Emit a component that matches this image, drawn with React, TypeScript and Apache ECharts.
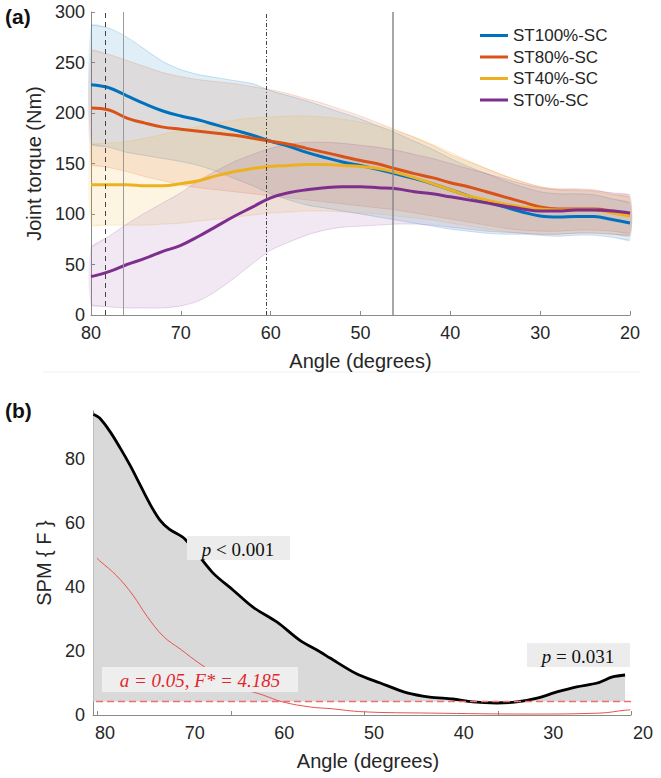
import React, { useEffect, useRef } from "react";
import * as echarts from "echarts";

// ---------- Panel (a): joint torque vs angle ----------
const angles = [80, 78, 76, 74, 72, 70, 68, 66, 64, 62, 60, 58, 56, 54, 52, 50, 48, 46, 44, 42, 40, 38, 36, 34, 32, 30, 28, 26, 24, 22, 20];

const st100Mean = [228, 225, 217, 209, 202, 197, 193, 188, 183, 178, 172, 167, 161, 156, 151.5, 148, 144, 139.5, 135, 130, 124, 118, 112, 107, 102, 98, 97, 97.5, 97.5, 94.5, 91];
const st80Mean = [205, 203, 195, 190, 186, 184, 182, 180, 178, 175, 172, 169, 165, 161, 157, 153, 149.5, 144.5, 140, 136, 131, 127, 122, 117, 112, 107, 105, 105, 105, 103, 100];
const st40Mean = [129, 129, 129, 128, 128, 130, 133, 138, 142, 145, 147, 148, 149, 149, 148, 147, 145, 141, 136, 130, 124, 118, 114, 110, 107, 105, 104, 104, 104, 101, 98];
const st0Mean = [38, 43, 50, 56, 63, 69, 78, 88, 98, 107, 116, 121, 124, 126, 127, 127, 126, 125, 122, 120, 117, 114, 111, 108, 105, 103, 103, 104, 104, 103, 101];

const st100Upper = [287, 284, 275, 263, 251, 243, 238, 235, 232, 229, 222, 217, 212, 206, 200, 194, 187, 180, 172, 164, 155, 147, 140, 133, 127, 122, 120, 120, 119, 115, 111];
const st100Lower = [169, 166, 161, 158, 155, 152, 148, 142, 135, 128, 120, 114, 109, 106, 103, 100, 97, 94, 91, 88, 85, 83, 81, 80, 80, 79, 78, 79, 79, 77, 74];
const st80Upper = [262, 258, 252, 246, 240, 236, 233, 231, 229, 226, 223, 219, 214, 209, 203, 197, 190, 183, 176, 168, 159, 152, 145, 138, 132, 127, 125, 125, 124, 120, 117];
const st80Lower = [149, 146, 142, 137, 133, 129, 126, 124, 122, 120, 118, 116, 114, 112, 110, 108, 106, 104, 101, 98, 95, 92, 89, 86, 84, 83, 83, 84, 84, 83, 81];
const st40Upper = [169, 170, 172, 175, 179, 183, 187, 190, 193, 195, 196, 197, 197, 196, 194, 191, 187, 182, 176, 169, 161, 153, 145, 138, 132, 127, 124, 123, 122, 119, 116];
const st40Lower = [89, 89, 89, 89, 90, 91, 93, 95, 97, 99, 101, 102, 103, 103, 102, 101, 100, 98, 96, 94, 91, 88, 85, 83, 81, 80, 80, 81, 81, 80, 78];
const st0Upper = [67, 78, 90, 101, 111, 121, 133, 143, 152, 159, 165, 169, 171, 171, 170, 168, 166, 163, 159, 155, 150, 145, 140, 135, 130, 126, 124, 124, 123, 121, 119];
const st0Lower = [10, 8, 7, 7, 7, 9, 14, 24, 37, 51, 64, 72, 79, 84, 87, 88, 89, 90, 90, 89, 87, 85, 83, 82, 81, 80, 80, 81, 81, 80, 79];

const seriesNames = ["ST100%-SC", "ST80%-SC", "ST40%-SC", "ST0%-SC"];
const markerAngles = [78.4, 76.4, 60.5, 46.4];

// ---------- Panel (b): SPM{F} ----------
const spmAngle = [81.3, 80.6, 79.4, 78.3, 77.2, 76.1, 75.0, 73.9, 72.8, 71.1, 68.0, 65.7, 63.5, 60.8, 58.3, 56.0, 54.9, 51.9, 49.3, 46.3, 43.8, 41.2, 39.0, 36.3, 34.1, 31.8, 29.6, 27.4, 25.1, 23.4, 22.0];
const spmF = [94, 92.8, 88.4, 83.4, 78, 72, 66, 61, 58, 55, 44.5, 39, 33.7, 29, 23.4, 19.7, 17.8, 12.8, 10, 6.9, 5.6, 5.0, 4.1, 3.75, 4.1, 5.3, 7.2, 8.8, 10, 11.9, 12.5];
const redAngle = [80.9, 80.6, 78.7, 76.9, 75.3, 73.5, 71.6, 69.4, 65.7, 62.4, 60.2, 57.1, 54.9, 51.2, 43.8, 32.6, 24.8, 22.0, 21.4];
const redF = [49, 48.2, 43.5, 37.5, 30.8, 24.6, 20.6, 16, 9.4, 6.25, 4.1, 2.5, 2.0, 1.0, 0.6, 0.3, 0.6, 1.5, 1.6];
const threshold = 4.185;
const spmYTicks = [0, 20, 40, 60, 80];
const bottomLabelValues = [80, 70, 60, 50, 40, 30, 20];
const bottomTickValues = [80.9, 65.95, 51.1, 36.2, 21.35];
const bottomMinDeg = 21.34;
const bottomMaxDeg = 81.34;

const COLORS = ["#0072BD", "#D95319", "#EDB120", "#7E2F8E"];
const BAND_FILLS = [
  "rgba(0,114,189,0.12)",
  "rgba(217,83,25,0.12)",
  "rgba(237,177,32,0.13)",
  "rgba(126,47,142,0.11)",
];
const BAND_EDGES = [
  "rgba(0,114,189,0.25)",
  "rgba(217,83,25,0.22)",
  "rgba(237,177,32,0.25)",
  "rgba(126,47,142,0.22)",
];

const SANS = "'Liberation Sans', Arial, Helvetica, sans-serif";
const SERIF = "'Liberation Serif', 'Times New Roman', serif";
const AXIS_GREY = "#8a8a8a";
const TEXT = "#262626";

function pairs(xs: number[], ys: number[]) {
  return xs.map((x, i) => [x, ys[i]]);
}

export default function App() {
  const ref = useRef<HTMLDivElement>(null);

  useEffect(() => {
    if (!ref.current) return;
    const chart = echarts.init(ref.current, null, { renderer: "svg" });

    const means = [st100Mean, st80Mean, st40Mean, st0Mean];
    const uppers = [st100Upper, st80Upper, st40Upper, st0Upper];
    const lowers = [st100Lower, st80Lower, st40Lower, st0Lower];

    const bandSeries: any[] = uppers.map((up, k) => {
      const lo = lowers[k];
      return {
        type: "custom",
        xAxisIndex: 0,
        yAxisIndex: 0,
        silent: true,
        z: 1,
        data: angles.map((a, i) => [a, lo[i], up[i]]),
        encode: { x: 0, y: [1, 2] },
        renderItem: (params: any, api: any) => {
          if (params.dataIndex !== 0) return null;
          const top = angles.map((a, i) => api.coord([a, up[i]]));
          const bot = angles.map((a, i) => api.coord([a, lo[i]]));
          const poly = top.concat(bot.slice().reverse());
          return {
            type: "group",
            children: [
              {
                type: "polygon",
                shape: { points: poly, smooth: 0.25 },
                style: { fill: BAND_FILLS[k], stroke: "none" },
              },
              {
                type: "polyline",
                shape: { points: top, smooth: 0.3 },
                style: { fill: "none", stroke: BAND_EDGES[k], lineWidth: 0.8 },
              },
              {
                type: "polyline",
                shape: { points: bot, smooth: 0.3 },
                style: { fill: "none", stroke: BAND_EDGES[k], lineWidth: 0.8 },
              },
            ],
          };
        },
      };
    });

    const meanSeries: any[] = means.map((m, k) => ({
      type: "line",
      name: seriesNames[k],
      xAxisIndex: 0,
      yAxisIndex: 0,
      data: pairs(angles, m),
      smooth: 0.4,
      showSymbol: false,
      color: COLORS[k],
      lineStyle: { color: COLORS[k], width: 3 },
      z: 3,
      markLine:
        k === 0
          ? {
              silent: true,
              symbol: ["none", "none"],
              label: { show: false },
              data: [
                { xAxis: markerAngles[0], lineStyle: { color: "#444", type: [5, 4], width: 1 } },
                { xAxis: markerAngles[1], lineStyle: { color: "#9a9a9a", type: "solid", width: 1 } },
                { xAxis: markerAngles[2], lineStyle: { color: "#444", type: [4, 2, 1, 2], width: 1 } },
                { xAxis: markerAngles[3], lineStyle: { color: "#8a8a8a", type: "solid", width: 1.5 } },
              ],
            }
          : undefined,
    }));

    const axisLabelStyle = { color: TEXT, fontSize: 18, fontFamily: SANS };
    const axisLine = { show: true, lineStyle: { color: AXIS_GREY, width: 1 } };
    const axisTick = { show: true, inside: true, length: 4, lineStyle: { color: AXIS_GREY } };

    const option: any = {
      animation: false,
      backgroundColor: "#ffffff",
      textStyle: { fontFamily: SANS },
      legend: {
        data: seriesNames,
        orient: "vertical",
        left: 475,
        top: 20,
        icon: "rect",
        itemWidth: 28,
        itemHeight: 3,
        itemGap: 0.5,
        textStyle: { color: TEXT, fontSize: 17, fontFamily: SANS, lineHeight: 21 },
      },
      grid: [
        { left: 91, top: 12, width: 539, height: 303 },
        { left: 93, top: 411, width: 538, height: 304 },
        { left: 93, top: 411, width: 550, height: 304 },
      ],
      xAxis: [
        {
          type: "value",
          gridIndex: 0,
          inverse: true,
          min: 20,
          max: 80,
          interval: 10,
          name: "Angle (degrees)",
          nameLocation: "middle",
          nameGap: 36,
          nameTextStyle: { color: TEXT, fontSize: 20, fontFamily: SANS },
          axisLine,
          axisTick,
          axisLabel: { ...axisLabelStyle, margin: 9 },
          splitLine: { show: false },
        },
        {
          type: "value",
          gridIndex: 1,
          inverse: true,
          min: bottomMinDeg,
          max: bottomMaxDeg,
          axisLine,
          axisTick: { ...axisTick, customValues: bottomTickValues },
          axisLabel: { show: false },
          splitLine: { show: false },
        },
        {
          type: "value",
          gridIndex: 2,
          inverse: true,
          min: 20,
          max: bottomMaxDeg,
          interval: 10,
          name: "Angle (degrees)",
          nameLocation: "middle",
          nameGap: 36,
          nameTextStyle: { color: TEXT, fontSize: 20, fontFamily: SANS },
          axisLine: { show: false },
          axisTick: { show: false },
          axisLabel: { ...axisLabelStyle, margin: 9, customValues: bottomLabelValues },
          splitLine: { show: false },
        },
      ],
      yAxis: [
        {
          type: "value",
          gridIndex: 0,
          min: 0,
          max: 300,
          interval: 50,
          name: "Joint torque (Nm)",
          nameLocation: "middle",
          nameGap: 43,
          nameTextStyle: { color: TEXT, fontSize: 20, fontFamily: SANS },
          axisLine,
          axisTick,
          axisLabel: { ...axisLabelStyle, margin: 6 },
          splitLine: { show: false },
        },
        {
          type: "value",
          gridIndex: 1,
          min: 0,
          max: 95,
          name: "SPM { F }",
          nameLocation: "middle",
          nameGap: 33,
          nameTextStyle: { color: TEXT, fontSize: 20, fontFamily: SANS },
          axisLine,
          axisTick: { ...axisTick, customValues: spmYTicks },
          axisLabel: { ...axisLabelStyle, margin: 8, customValues: spmYTicks },
          splitLine: { show: false },
        },
        {
          type: "value",
          gridIndex: 2,
          min: 0,
          max: 95,
          show: false,
        },
      ],
      series: [
        ...bandSeries,
        ...meanSeries,
        {
          type: "line",
          name: "SPM",
          xAxisIndex: 1,
          yAxisIndex: 1,
          data: pairs(spmAngle, spmF),
          smooth: 0.3,
          showSymbol: false,
          silent: true,
          lineStyle: { color: "#000000", width: 2.8 },
          areaStyle: { color: "#d9d9d9", opacity: 1, origin: threshold },
          z: 2,
          markLine: {
            silent: true,
            symbol: ["none", "none"],
            label: { show: false },
            lineStyle: { color: "#f07070", type: [7, 4], width: 1.3 },
            data: [{ yAxis: threshold }],
          },
        },
        {
          type: "line",
          name: "ref",
          xAxisIndex: 1,
          yAxisIndex: 1,
          data: pairs(redAngle, redF),
          smooth: 0.4,
          showSymbol: false,
          silent: true,
          lineStyle: { color: "#e8524f", width: 1 },
          z: 3,
        },
        {
          type: "line",
          xAxisIndex: 2,
          yAxisIndex: 2,
          data: [],
          silent: true,
        },
      ],
      graphic: [
        {
          type: "text",
          x: 5,
          y: 16,
          style: { text: "(a)", fontSize: 21, fontWeight: "bold", fontFamily: SANS, fill: "#111", verticalAlign: "middle" },
        },
        {
          type: "text",
          x: 5,
          y: 410,
          style: { text: "(b)", fontSize: 21, fontWeight: "bold", fontFamily: SANS, fill: "#111", verticalAlign: "middle" },
        },
        {
          type: "line",
          shape: { x1: 43, y1: 372, x2: 640, y2: 372 },
          style: { stroke: "#f1f1f1", lineWidth: 1 },
        },
        {
          type: "rect",
          shape: { x: 187, y: 536, width: 103, height: 24 },
          style: { fill: "#ececec" },
          z: 50,
        },
        {
          type: "text",
          x: 238,
          y: 549,
          z: 51,
          style: {
            text: "{i|p} < 0.001",
            rich: { i: { fontStyle: "italic", fontFamily: SERIF, fontSize: 19, fill: "#111" } },
            fontFamily: SERIF,
            fontSize: 19,
            fill: "#111",
            align: "center",
            verticalAlign: "middle",
          },
        },
        {
          type: "rect",
          shape: { x: 527, y: 643, width: 103, height: 24 },
          style: { fill: "#ececec" },
          z: 50,
        },
        {
          type: "text",
          x: 578,
          y: 656,
          z: 51,
          style: {
            text: "{i|p} = 0.031",
            rich: { i: { fontStyle: "italic", fontFamily: SERIF, fontSize: 19, fill: "#111" } },
            fontFamily: SERIF,
            fontSize: 19,
            fill: "#111",
            align: "center",
            verticalAlign: "middle",
          },
        },
        {
          type: "rect",
          shape: { x: 102, y: 667, width: 196, height: 25 },
          style: { fill: "#eeeeee" },
          z: 50,
        },
        {
          type: "text",
          x: 200,
          y: 680,
          z: 51,
          style: {
            text: "a = 0.05, F* = 4.185",
            fontFamily: SERIF,
            fontStyle: "italic",
            fontSize: 19,
            fill: "#e3262b",
            align: "center",
            verticalAlign: "middle",
          },
        },
      ],
    };

    chart.setOption(option);
    return () => chart.dispose();
  }, []);

  return (
    <div
      ref={ref}
      style={{ position: "fixed", left: 0, top: 0, width: 661, height: 778, background: "#fff" }}
    />
  );
}
